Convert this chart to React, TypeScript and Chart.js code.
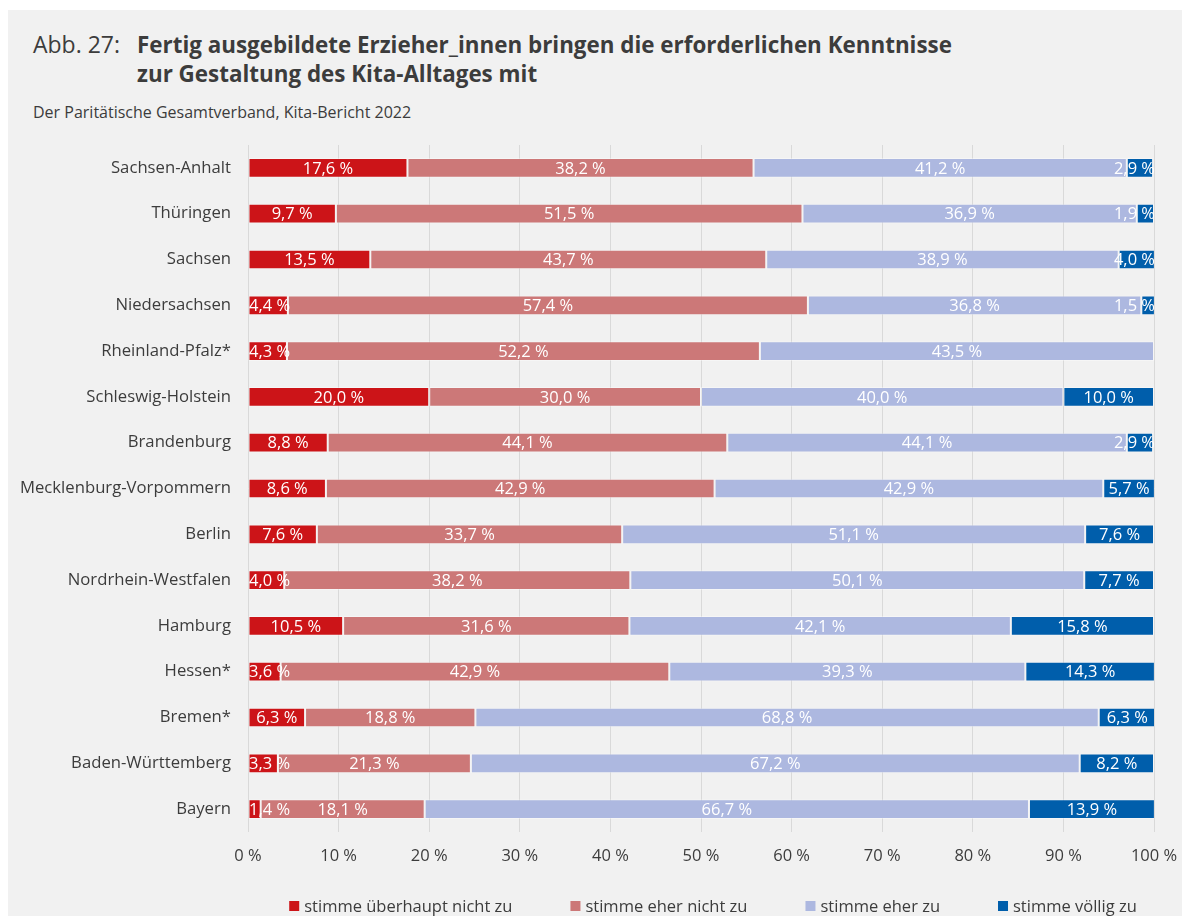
import React, { useEffect, useRef } from "react";
import { Chart, registerables } from "chart.js";

Chart.register(...registerables);

const categories = [
  "Sachsen-Anhalt",
  "Thüringen",
  "Sachsen",
  "Niedersachsen",
  "Rheinland-Pfalz*",
  "Schleswig-Holstein",
  "Brandenburg",
  "Mecklenburg-Vorpommern",
  "Berlin",
  "Nordrhein-Westfalen",
  "Hamburg",
  "Hessen*",
  "Bremen*",
  "Baden-Württemberg",
  "Bayern",
];

const seriesNames = [
  "stimme überhaupt nicht zu",
  "stimme eher nicht zu",
  "stimme eher zu",
  "stimme völlig zu",
];

const ueberhauptNicht = [17.6, 9.7, 13.5, 4.4, 4.3, 20.0, 8.8, 8.6, 7.6, 4.0, 10.5, 3.6, 6.3, 3.3, 1.4];
const eherNicht = [38.2, 51.5, 43.7, 57.4, 52.2, 30.0, 44.1, 42.9, 33.7, 38.2, 31.6, 42.9, 18.8, 21.3, 18.1];
const eherZu = [41.2, 36.9, 38.9, 36.8, 43.5, 40.0, 44.1, 42.9, 51.1, 50.1, 42.1, 39.3, 68.8, 67.2, 66.7];
const voellig = [2.9, 1.9, 4.0, 1.5, 0, 10.0, 2.9, 5.7, 7.6, 7.7, 15.8, 14.3, 6.3, 8.2, 13.9];

const xTicks = [0, 10, 20, 30, 40, 50, 60, 70, 80, 90, 100];

const colors = ["#cc1418", "#cc7878", "#adb8e0", "#005eab"];

const FONT = "'Open Sans', sans-serif";
const TEXT = "#3c3c3c";

const fmt = (v: number) => v.toFixed(1).replace(".", ",") + " %";

const dataLabelPlugin = {
  id: "dataLabels",
  afterDatasetsDraw(chart: any) {
    const { ctx, chartArea } = chart;
    ctx.save();
    ctx.font = `16.5px ${FONT}`;
    ctx.fillStyle = "#ffffff";
    ctx.textBaseline = "middle";
    ctx.textAlign = "left";
    chart.data.datasets.forEach((ds: any, di: number) => {
      const meta = chart.getDatasetMeta(di);
      meta.data.forEach((el: any, i: number) => {
        const v = ds.data[i];
        if (!v) return;
        const t = fmt(v);
        const w = ctx.measureText(t).width;
        const cx = (el.x + el.base) / 2;
        let left = cx - w / 2;
        if (left < chartArea.left) left = chartArea.left + 1;
        if (left + w > chartArea.right) left = chartArea.right - w + 1;
        ctx.fillText(t, left, el.y + 1);
      });
    });
    ctx.restore();
  },
};

const legendPlugin = {
  id: "customLegend",
  afterDraw(chart: any) {
    const { ctx, chartArea } = chart;
    ctx.save();
    ctx.font = `16.5px ${FONT}`;
    ctx.textBaseline = "middle";
    ctx.textAlign = "left";
    const box = 10;
    const gapBox = 5;
    const gapItem = 58;
    const widths = seriesNames.map((n) => box + gapBox + ctx.measureText(n).width);
    const total = widths.reduce((a, b) => a + b, 0) + gapItem * (widths.length - 1);
    const centerX = 705;
    let x = centerX - total / 2;
    const y = chartArea.bottom + 74;
    seriesNames.forEach((n, i) => {
      ctx.fillStyle = colors[i];
      ctx.fillRect(x, y - box / 2, box, box);
      ctx.fillStyle = TEXT;
      ctx.fillText(n, x + box + gapBox, y + 1);
      x += widths[i] + gapItem;
    });
    ctx.restore();
  },
};

function BarChart() {
  const ref = useRef<HTMLCanvasElement>(null);
  useEffect(() => {
    if (!ref.current) return;
    const series = [ueberhauptNicht, eherNicht, eherZu, voellig];
    const chart = new Chart(ref.current, {
      type: "bar",
      data: {
        labels: categories,
        datasets: series.map((d, i) => ({
          label: seriesNames[i],
          data: d,
          backgroundColor: colors[i],
          borderColor: "rgba(255,255,255,0.35)",
          borderWidth: 1,
          borderSkipped: false,
          categoryPercentage: 0.43,
          barPercentage: 1,
        })),
      },
      options: {
        indexAxis: "y",
        animation: false,
        responsive: false,
        maintainAspectRatio: false,
        layout: { padding: { top: 15, right: 28, left: 0, bottom: 54 } },
        plugins: {
          legend: { display: false },
          tooltip: { enabled: false },
          title: { display: false },
        },
        scales: {
          x: {
            stacked: true,
            min: 0,
            max: 100,
            afterBuildTicks: (scale: any) => {
              scale.ticks = xTicks.map((v) => ({ value: v }));
            },
            afterFit: (scale: any) => {
              scale.height = 30;
              scale.paddingLeft = 0;
              scale.paddingRight = 0;
            },
            grid: { color: "#d9d9d9", lineWidth: 1, drawTicks: false },
            border: { display: false },
            ticks: {
              padding: 14,
              color: TEXT,
              font: { family: FONT, size: 16.5 },
              callback: (v: any) => `${v} %`,
            },
          },
          y: {
            stacked: true,
            afterFit: (scale: any) => {
              scale.width = 240;
              scale.paddingTop = 0;
              scale.paddingBottom = 0;
            },
            grid: { display: false, drawTicks: false },
            border: { display: false },
            ticks: {
              padding: 17,
              color: TEXT,
              font: { family: FONT, size: 16.7 },
            },
          },
        },
      },
      plugins: [dataLabelPlugin, legendPlugin],
    });
    return () => chart.destroy();
  }, []);
  return (
    <canvas
      ref={ref}
      width={1174}
      height={786}
      style={{ position: "absolute", left: 0, top: 120, width: 1174, height: 786 }}
    />
  );
}

export default function App() {
  return (
    <div
      style={{
        position: "absolute",
        left: 8,
        top: 10,
        width: 1174,
        height: 906,
        background: "#f1f1f1",
        fontFamily: FONT,
        color: TEXT,
        overflow: "hidden",
      }}
    >
      <div style={{ position: "absolute", left: 25, top: 20, fontSize: 23, lineHeight: "29px", whiteSpace: "nowrap" }}>
        Abb. 27:
      </div>
      <div
        style={{
          position: "absolute",
          left: 129,
          top: 20,
          fontSize: 22.4,
          lineHeight: "29px",
          fontWeight: 700,
          whiteSpace: "nowrap",
        }}
      >
        Fertig ausgebildete Erzieher_innen bringen die erforderlichen Kenntnisse
        <br />
        zur Gestaltung des Kita-Alltages mit
      </div>
      <div style={{ position: "absolute", left: 25, top: 92, fontSize: 16, lineHeight: "20px", whiteSpace: "nowrap" }}>
        Der Paritätische Gesamtverband, Kita-Bericht 2022
      </div>
      <BarChart />
    </div>
  );
}
